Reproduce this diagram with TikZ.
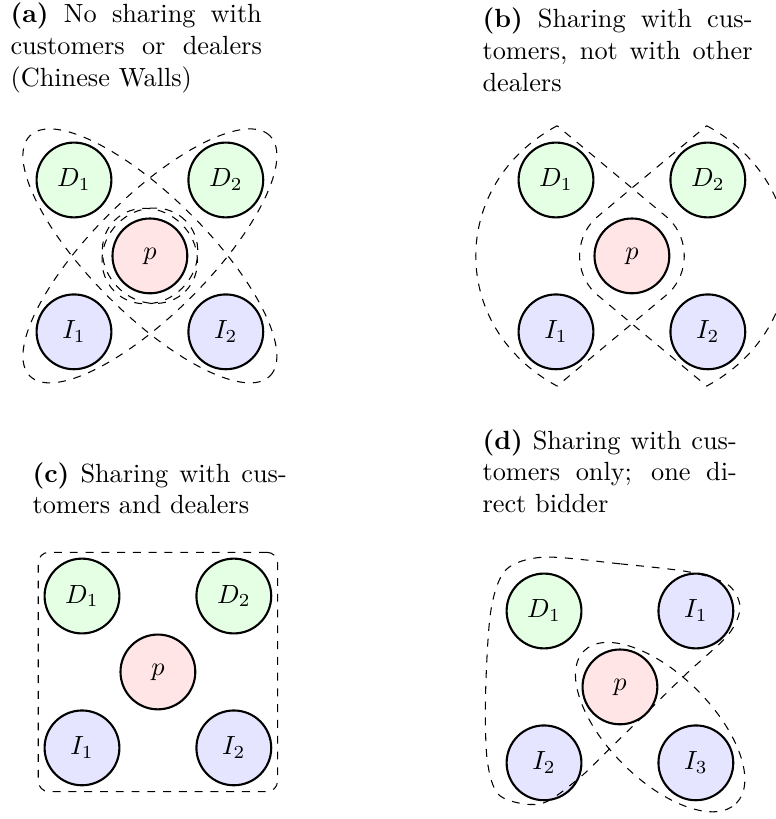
\documentclass[tikz,border=0pt]{standalone}
\usepackage{tikz}
\usetikzlibrary{shapes}
\usetikzlibrary{positioning}
\usetikzlibrary{calc}
\usetikzlibrary{fit}

\begin{document}
\begin{tikzpicture}[node distance=2.03cm,on grid]
        \tikzstyle{agent}=[thick, draw, circle, minimum size=1cm, inner sep=0pt]
        \tikzstyle{dealer}=[agent, fill=green!10]
        \tikzstyle{investor}=[agent, fill=blue!10]
        \tikzstyle{proxy}=[agent, fill=red!10]
        \tikzstyle{group}=[dashed]
        \tikzstyle{caption}=[text width=3.4cm, align=justify, anchor=base west, inner sep=0pt]
        \useasboundingbox (0,0) rectangle (10.374,-10.949);

        % (a)
        \node[caption, text width=3.36cm] (capa) at (0.134,-0.307) {\textbf{(a)} No sharing with\linebreak customers or dealers\linebreak (Chinese Walls)};
        \node[dealer] (D1a) at (0.989,-2.406) {$D_1$};
        \node[dealer, right=of D1a] (D2a) {$D_2$};
        \node[proxy, below right=1.015cm and 1.015cm of D1a] (pa) {$p$};
        \node[investor, below=of D1a] (I1a) {$I_1$};
        \node[investor, right=of I1a] (I2a) {$I_2$};
        \draw[group, rotate around={-45:(pa)}] (pa) ellipse (2.27 and 0.78);
        \draw[group, rotate around={45:(pa)}] (pa) ellipse (2.27 and 0.78);
        \draw[group, rotate around={-45:(pa)}] (pa) ellipse (0.67 and 0.60);
        \draw[group, rotate around={45:(pa)}] (pa) ellipse (0.67 and 0.61);

        % (b)
        \node[caption, text width=3.61cm] (capb) at (6.444,-0.374) {\textbf{(b)} Sharing with cus-\linebreak tomers, not with other\linebreak dealers};
        \node[dealer] (D1b) at (7.433,-2.406) {$D_1$};
        \node[dealer, right=of D1b] (D2b) {$D_2$};
        \node[proxy, below right=1.015cm and 1.015cm of D1b] (pb) {$p$};
        \node[investor, below=of D1b] (I1b) {$I_1$};
        \node[investor, right=of I1b] (I2b) {$I_2$};
        \draw[group] ($(pb)+(-1,1.74)$) .. controls ($(pb)+(-2.45,0.96)$) and ($(pb)+(-2.45,-0.96)$) .. ($(pb)+(-1,-1.74)$)
            -- ($(pb)+(-45:0.7)$) arc[start angle=-45, end angle=45, radius=0.7] -- cycle;
        \draw[group] ($(pb)+(1,1.74)$) .. controls ($(pb)+(2.45,0.96)$) and ($(pb)+(2.45,-0.96)$) .. ($(pb)+(1,-1.74)$)
            -- ($(pb)+(225:0.7)$) arc[start angle=225, end angle=135, radius=0.7] -- cycle;

        % (c)
        \node[caption] (capc) at (0.428,-6.444) {\textbf{(c)} Sharing with cus-\linebreak tomers and dealers};
        \node[dealer] (D1c) at (1.096,-7.968) {$D_1$};
        \node[dealer, right=of D1c] (D2c) {$D_2$};
        \node[proxy, below right=1.015cm and 1.015cm of D1c] (pc) {$p$};
        \node[investor, below=of D1c] (I1c) {$I_1$};
        \node[investor, right=of I1c] (I2c) {$I_2$};
        \node[group, draw, rounded corners, inner sep=2pt, fit=(D1c)(I2c)] (allc) {};

        % (d)
        \node[caption] (capd) at (6.444,-6.003) {\textbf{(d)} Sharing with cus-\linebreak tomers only; one di-\linebreak rect bidder};
        \node[dealer] (D1d) at (7.273,-8.168) {$D_1$};
        \node[investor, right=of D1d] (I1d) {$I_1$};
        \node[proxy, below right=1.015cm and 1.015cm of D1d] (pd) {$p$};
        \node[investor, below=of D1d] (I2d) {$I_2$};
        \node[investor, right=of I2d] (I3d) {$I_3$};
        \begin{scope}[shift={(D1d)}]
          \draw[group] plot[smooth cycle] coordinates {(0,0.72) (1.02,0.63) (1.95,0.52) (2.46,0.35) (2.62,0.05)
            (2.46,-0.32) (1.86,-0.88) (0.88,-1.84) (0.45,-2.25) (-0.05,-2.58) (-0.59,-2.47)
            (-0.76,-1.99) (-0.78,-1.06) (-0.71,0.01) (-0.51,0.55)};
        \end{scope}
        \draw[group, rotate around={-45:(pd)}] ($(pd)+(0.76,0)$) ellipse (1.44 and 0.70);
\end{tikzpicture}
\end{document}
